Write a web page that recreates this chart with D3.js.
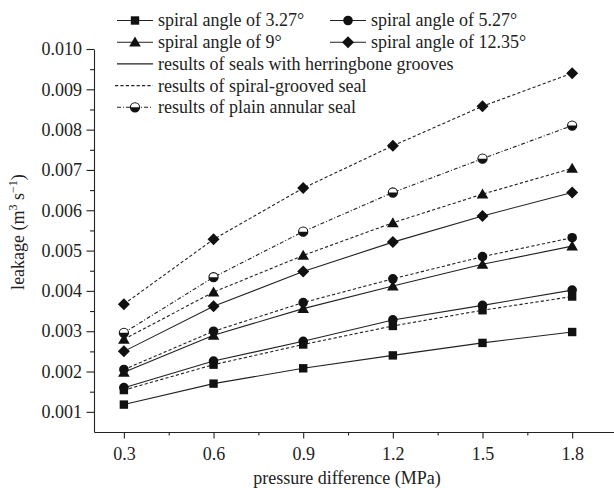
<!DOCTYPE html>
<html>
<head>
<meta charset="utf-8">
<script src="https://cdn.jsdelivr.net/npm/d3@7"></script>
<style>
  html, body { margin: 0; padding: 0; background: #fff; }
  svg { display: block; font-family: "Liberation Serif", "Times New Roman", serif; }
</style>
</head>
<body>
<div id="leakageGraph"></div>
<script>
// pressure difference (MPa)
const pressure = [0.3, 0.6, 0.9, 1.2, 1.5, 1.8];

// leakage (m3/s)
const herring327 = [0.00118, 0.00170, 0.00208, 0.00240, 0.00271, 0.00298];
const spiral327  = [0.00154, 0.00217, 0.00267, 0.00313, 0.00352, 0.00386];
const herring527 = [0.00160, 0.00226, 0.00275, 0.00328, 0.00364, 0.00402];
const spiral527  = [0.00205, 0.00300, 0.00371, 0.00430, 0.00485, 0.00532];
const herring9   = [0.00198, 0.00290, 0.00356, 0.00412, 0.00466, 0.00511];
const spiral9    = [0.00280, 0.00397, 0.00488, 0.00569, 0.00640, 0.00704];
const herring1235 = [0.00250, 0.00362, 0.00448, 0.00521, 0.00586, 0.00644];
const spiral1235  = [0.00367, 0.00528, 0.00655, 0.00760, 0.00858, 0.00940];
const plainSeal  = [0.00296, 0.00434, 0.00547, 0.00644, 0.00728, 0.00810];

const xTicks = [0.3, 0.6, 0.9, 1.2, 1.5, 1.8];
const xMinorTicks = [0.45, 0.75, 1.05, 1.35, 1.65];
const yTicks = [0.001, 0.002, 0.003, 0.004, 0.005, 0.006, 0.007, 0.008, 0.009, 0.010];
const yMinorTicks = [0.0015, 0.0025, 0.0035, 0.0045, 0.0055, 0.0065, 0.0075, 0.0085, 0.0095];

const angleLabels = ["spiral angle of 3.27°", "spiral angle of 5.27°", "spiral angle of 9°", "spiral angle of 12.35°"];
const styleLabels = ["results of seals with herringbone grooves", "results of spiral-grooved seal", "results of plain annular seal"];

const width = 614, height = 488;
const margin = { top: 49, right: 0, bottom: 56, left: 94 };
const font = "Liberation Serif, Times New Roman, serif";
const fontSize = 18;

const x = d3.scaleLinear()
    .domain([0.2, 1.94])
    .range([margin.left, width - margin.right]);

const y = d3.scaleLinear()
    .domain([0.0005, 0.010])
    .range([height - margin.bottom, margin.top]);

const dashes = { solid: null, dashed: "3.2,2.2", dashdot: "4,2,1,2" };

// marker shapes per spiral angle
function square(g) {
    g.append("rect").attr("x", -4.2).attr("y", -4.2).attr("width", 8.4).attr("height", 8.4).attr("fill", "#111");
}
function circle(g) {
    g.append("circle").attr("r", 4.8).attr("fill", "#111");
}
function triangle(g) {
    g.append("path").attr("d", "M0,-5.6L5.8,4.4L-5.8,4.4Z").attr("fill", "#111");
}
function diamond(g) {
    g.append("path").attr("d", "M0,-6L6,0L0,6L-6,0Z").attr("fill", "#111");
}
function halfCircle(g) {
    const r = 4.6;
    g.append("circle").attr("r", r).attr("fill", "#fff").attr("stroke", "#111").attr("stroke-width", 1.1);
    g.append("path").attr("d", `M${-r},0A${r},${r} 0 0 0 ${r},0Z`).attr("fill", "#111");
}

// draw order: lower series first, circles over triangles like the original
const series = [
    { values: herring327, dash: "solid", marker: square },
    { values: spiral327, dash: "dashed", marker: square },
    { values: herring9, dash: "solid", marker: triangle },
    { values: spiral9, dash: "dashed", marker: triangle },
    { values: herring527, dash: "solid", marker: circle },
    { values: spiral527, dash: "dashed", marker: circle },
    { values: herring1235, dash: "solid", marker: diamond },
    { values: spiral1235, dash: "dashed", marker: diamond },
    { values: plainSeal, dash: "dashdot", marker: halfCircle }
];

const svg = d3.select("#leakageGraph")
    .append("svg")
    .attr("width", width)
    .attr("height", height)
    .attr("viewBox", [0, 0, width, height]);

// axes
svg.append("g")
    .attr("transform", `translate(0,${y.range()[0]})`)
    .call(d3.axisBottom(x).tickValues(xMinorTicks).tickSize(3.5).tickFormat(""))
    .call(g => g.select(".domain").remove());

svg.append("g")
    .attr("transform", `translate(0,${y.range()[0]})`)
    .attr("font-family", font)
    .call(d3.axisBottom(x).tickValues(xTicks).tickSize(6.5).tickSizeOuter(0).tickPadding(9).tickFormat(d3.format(".1f")))
    .attr("font-family", font)
    .attr("font-size", fontSize)
    .call(g => g.selectAll("text").attr("fill", "#222"));

svg.append("g")
    .attr("transform", `translate(${margin.left},0)`)
    .call(d3.axisLeft(y).tickValues(yMinorTicks).tickSize(4).tickFormat(""))
    .call(g => g.select(".domain").remove());

svg.append("g")
    .attr("transform", `translate(${margin.left},0)`)
    .call(d3.axisLeft(y).tickValues(yTicks).tickSize(7.5).tickSizeOuter(0).tickPadding(4.5).tickFormat(d3.format(".3f")))
    .attr("font-family", font)
    .attr("font-size", fontSize)
    .call(g => g.selectAll("text").attr("fill", "#222"));

svg.selectAll(".domain, .tick line").attr("stroke", "#222").attr("stroke-width", 1.1);

// axis titles
svg.append("text")
    .attr("x", 347)
    .attr("y", 484)
    .attr("text-anchor", "middle")
    .attr("font-family", font)
    .attr("font-size", fontSize)
    .attr("fill", "#222")
    .text("pressure difference (MPa)");

const yTitle = svg.append("text")
    .attr("transform", "translate(24,232) rotate(-90)")
    .attr("text-anchor", "middle")
    .attr("font-family", font)
    .attr("font-size", fontSize)
    .attr("fill", "#222");
yTitle.append("tspan").text("leakage (m");
yTitle.append("tspan").attr("font-size", 12).attr("dy", -7).text("3");
yTitle.append("tspan").attr("dy", 7).text(" s");
yTitle.append("tspan").attr("font-size", 12).attr("dy", -7).text("−1");
yTitle.append("tspan").attr("dy", 7).text(")");

// lines and markers
const line = d3.line()
    .x((d, i) => x(pressure[i]))
    .y(d => y(d));

series.forEach(s => {
    svg.append("path")
        .attr("fill", "none")
        .attr("stroke", "#222")
        .attr("stroke-width", 1.1)
        .attr("stroke-dasharray", dashes[s.dash])
        .attr("d", line(s.values));
});

series.forEach(s => {
    svg.append("g")
        .selectAll("g")
        .data(s.values)
        .join("g")
        .attr("transform", (d, i) => `translate(${x(pressure[i])},${y(d)})`)
        .each(function () { s.marker(d3.select(this)); });
});

// legend
const legend = svg.append("g")
    .attr("font-family", font)
    .attr("font-size", fontSize)
    .attr("fill", "#222");

const legendRows = [
    { col: 0, row: 0, marker: square, dash: "solid", label: angleLabels[0] },
    { col: 1, row: 0, marker: circle, dash: "solid", label: angleLabels[1] },
    { col: 0, row: 1, marker: triangle, dash: "solid", label: angleLabels[2] },
    { col: 1, row: 1, marker: diamond, dash: "solid", label: angleLabels[3] },
    { col: 0, row: 2, marker: null, dash: "solid", label: styleLabels[0] },
    { col: 0, row: 3, marker: null, dash: "dashed", label: styleLabels[1] },
    { col: 0, row: 4, marker: halfCircle, dash: "dashdot", label: styleLabels[2] }
];

legendRows.forEach(r => {
    const x0 = r.col === 0 ? 117 : 330;
    const yy = 20.5 + r.row * 21.7;
    const item = legend.append("g").attr("transform", `translate(${x0},${yy})`);
    item.append("line")
        .attr("x1", r.dash === "dashed" ? -2 : 0)
        .attr("x2", 36)
        .attr("stroke", "#222")
        .attr("stroke-width", 1.1)
        .attr("stroke-dasharray", dashes[r.dash]);
    if (r.marker) r.marker(item.append("g").attr("transform", "translate(18,0)"));
    item.append("text")
        .attr("x", 41)
        .attr("dy", "0.33em")
        .text(r.label);
});
</script>
</body>
</html>
